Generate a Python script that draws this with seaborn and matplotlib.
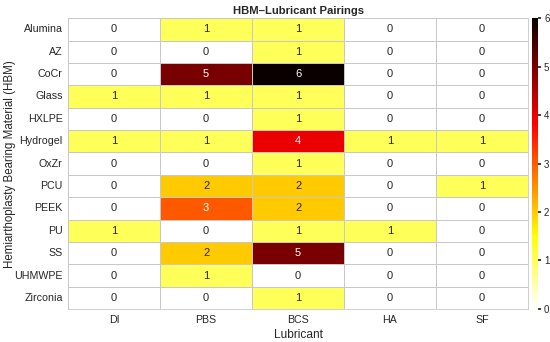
import numpy as np
import pandas as pd
import matplotlib
matplotlib.use("Agg")
import matplotlib.pyplot as plt
import seaborn as sns

sns.set_theme(style="white")
plt.rcParams['font.family'] = ['Liberation Sans', 'DejaVu Sans']

materials = ["Alumina", "AZ", "CoCr", "Glass", "HXLPE", "Hydrogel", "OxZr",
             "PCU", "PEEK", "PU", "SS", "UHMWPE", "Zirconia"]
lubricants = ["DI", "PBS", "BCS", "HA", "SF"]

di = [0, 0, 0, 1, 0, 1, 0, 0, 0, 1, 0, 0, 0]
pbs = [1, 0, 5, 1, 0, 1, 0, 2, 3, 0, 2, 1, 0]
bcs = [1, 1, 6, 1, 1, 4, 1, 2, 2, 1, 5, 0, 1]
ha = [0, 0, 0, 0, 0, 1, 0, 0, 0, 1, 0, 0, 0]
sf = [0, 0, 0, 0, 0, 1, 0, 1, 0, 0, 0, 0, 0]

df = pd.DataFrame({"DI": di, "PBS": pbs, "BCS": bcs, "HA": ha, "SF": sf},
                  index=materials)[lubricants]

fig = plt.figure(figsize=(5.5, 3.42), dpi=100)
ax = fig.add_axes([0.124, 0.096, 0.836, 0.851])
cax = fig.add_axes([0.967, 0.097, 0.012, 0.849])

sns.heatmap(df, ax=ax, cbar_ax=cax, cmap="hot_r", vmin=0, vmax=6,
            annot=True, fmt="d", annot_kws={"fontsize": 8},
            linewidths=0.5, linecolor="#c8c8c8")

for side in ["top", "bottom", "left", "right"]:
    ax.spines[side].set_visible(True)
    ax.spines[side].set_color("#c8c8c8")
    ax.spines[side].set_linewidth(0.6)

ax.set_title("HBM\u2013Lubricant Pairings", fontsize=8.1, fontweight="bold", pad=3)
ax.set_xlabel("Lubricant", fontsize=8.6, labelpad=3)
ax.set_ylabel("Hemiarthoplasty Bearing Material (HBM)", fontsize=8.3)
ax.yaxis.set_label_coords(-0.113, 0.5)
ax.tick_params(axis="both", length=0, labelsize=7.7, pad=4)
plt.setp(ax.get_yticklabels(), rotation=0)
plt.setp(ax.get_xticklabels(), rotation=0)

cax.tick_params(labelsize=7, length=2, pad=2)
cax.set_yticks([0, 1, 2, 3, 4, 5, 6])
for s in cax.spines.values():
    s.set_visible(False)

fig.savefig("out.png", dpi=100)
